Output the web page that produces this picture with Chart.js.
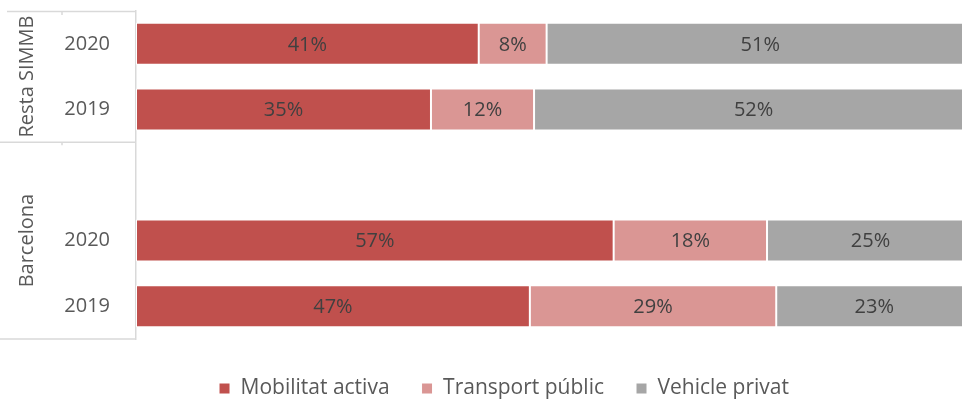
<!DOCTYPE html>
<html>
<head>
<meta charset="utf-8">
<script src="https://cdn.jsdelivr.net/npm/chart.js@4"></script>
<style>
  html, body { margin: 0; padding: 0; overflow: hidden; background: #fff; }
  #wrap { width: 998px; height: 409px; }
</style>
</head>
<body>
<div id="wrap"><canvas id="chart" width="998" height="409"></canvas></div>
<script>
const years = ['2020', '2019', '', '2020', '2019'];
const groups = ['Resta SIMMB', 'Barcelona'];
const mobilitatActiva = [40.9, 35.2, null, 57.0, 47.0];
const transportPublic = [8.1, 12.3, null, 18.3, 29.4];
const vehiclePrivat = [51.0, 52.4, null, 24.7, 23.4];

const textColor = '#595959';
const lineColor = '#d9d9d9';
const fontName = '"Open Sans", "Noto Sans", sans-serif';
Chart.defaults.font.family = fontName;

// etiquetes dins de les barres
const valueLabels = {
    id: 'valueLabels',
    afterDatasetsDraw(chart) {
        const ctx = chart.ctx;
        ctx.save();
        ctx.font = '20px ' + fontName;
        ctx.fillStyle = '#404040';
        ctx.textAlign = 'center';
        ctx.textBaseline = 'middle';
        chart.data.datasets.forEach(function(ds, i) {
            chart.getDatasetMeta(i).data.forEach(function(bar, j) {
                const v = ds.data[j];
                if (v === null) return;
                const p = bar.getCenterPoint();
                ctx.fillText(Math.round(v) + '%', p.x, p.y + 1);
            });
        });
        ctx.restore();
    }
};

// grups de l'eix vertical
const groupAxis = {
    id: 'groupAxis',
    afterDraw(chart) {
        const ctx = chart.ctx;
        const y = chart.scales.y;
        const top = chart.chartArea.top;
        const bottom = chart.chartArea.bottom;
        const split = (y.getPixelForValue(1) + y.getPixelForValue(2)) / 2;
        const axisX = chart.chartArea.left - 1;
        ctx.save();
        ctx.strokeStyle = lineColor;
        ctx.lineWidth = 1.5;
        ctx.beginPath();
        ctx.moveTo(7, top + 0.5); ctx.lineTo(axisX, top + 0.5);
        ctx.moveTo(0, split); ctx.lineTo(axisX, split);
        ctx.moveTo(0, bottom); ctx.lineTo(axisX, bottom);
        ctx.moveTo(62, top); ctx.lineTo(62, top + 4);
        ctx.moveTo(62, split); ctx.lineTo(62, split + 3);
        ctx.stroke();
        ctx.font = '20px ' + fontName;
        ctx.fillStyle = textColor;
        ctx.textAlign = 'center';
        ctx.textBaseline = 'middle';
        const centers = [(top + split) / 2, (split + bottom) / 2];
        groups.forEach(function(g, i) {
            ctx.save();
            ctx.translate(26, centers[i]);
            ctx.rotate(-Math.PI / 2);
            ctx.fillText(g, 0, 1);
            ctx.restore();
        });
        ctx.restore();
    }
};

new Chart(document.getElementById('chart').getContext('2d'), {
    type: 'bar',
    data: {
        labels: years,
        datasets: [
            { label: 'Mobilitat activa', data: mobilitatActiva, backgroundColor: '#c0504d' },
            { label: 'Transport públic', data: transportPublic, backgroundColor: '#da9694' },
            { label: 'Vehicle privat', data: vehiclePrivat, backgroundColor: '#a6a6a6' }
        ]
    },
    options: {
        indexAxis: 'y',
        responsive: false,
        animation: false,
        devicePixelRatio: 1,
        layout: { padding: { top: 11, right: 24, left: 34, bottom: 0 } },
        datasets: {
            bar: {
                categoryPercentage: 1,
                barPercentage: 0.64,
                borderColor: '#ffffff',
                borderWidth: 1,
                borderSkipped: false
            }
        },
        scales: {
            x: {
                stacked: true,
                min: 0,
                max: 100,
                ticks: { display: false },
                grid: { display: false },
                border: { display: false },
                afterFit: function(scale) { scale.height = 7; }
            },
            y: {
                stacked: true,
                grid: { display: false, drawTicks: false },
                border: { display: true, color: lineColor, width: 1.5 },
                ticks: { color: textColor, font: { size: 20 }, padding: 26 },
                afterFit: function(scale) {
                    scale.width = 102;
                    scale.paddingTop = 0;
                    scale.paddingBottom = 0;
                }
            }
        },
        plugins: {
            legend: {
                position: 'bottom',
                labels: {
                    boxWidth: 11,
                    boxHeight: 11,
                    padding: 32,
                    color: textColor,
                    font: { size: 21 }
                }
            },
            tooltip: { enabled: false }
        }
    },
    plugins: [valueLabels, groupAxis]
});
</script>
</body>
</html>
